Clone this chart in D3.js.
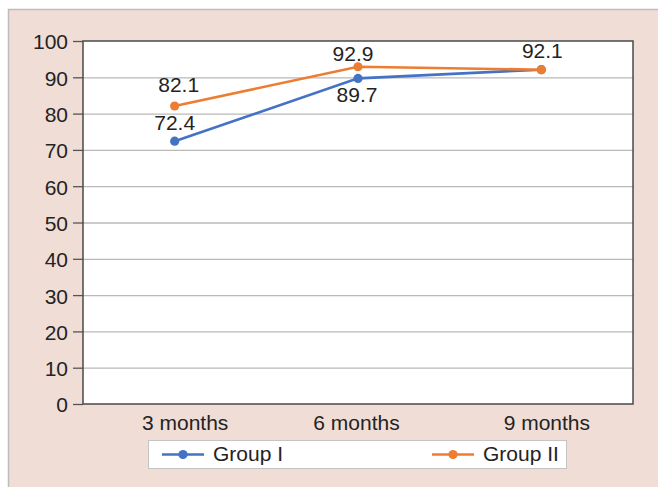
<!DOCTYPE html>
<html>
<head>
<meta charset="utf-8">
<script src="https://cdn.jsdelivr.net/npm/d3@7"></script>
<style>
  html, body { margin: 0; padding: 0; background: #ffffff; }
  svg { display: block; }
  text { font-family: "Liberation Sans", Arial, sans-serif; fill: #232323; }
</style>
</head>
<body>
<svg id="chart" width="658" height="487"></svg>
<script>
// Time points on the x axis
const timepoints = ["3 months", "6 months", "9 months"];
// Series values (%)
const groupI = [72.4, 89.7, 92.1];
const groupII = [82.1, 92.9, 92.1];
// Y axis ticks
const yTicks = [0, 10, 20, 30, 40, 50, 60, 70, 80, 90, 100];

const FONT = 21;

// Value labels: which points carry a label and where it sits relative to the marker
const series = [
  { name: "Group I", values: groupI, color: "#4472c4",
    labels: [{ i: 0, dx: 0, dy: -11.5 }, { i: 1, dx: -1, dy: 24 }] },
  { name: "Group II", values: groupII, color: "#ed7d31",
    labels: [{ i: 0, dx: 4, dy: -14 }, { i: 1, dx: -5, dy: -5.5 }, { i: 2, dx: 1, dy: -12 }] }
];

const W = 658, H = 487;
const plot = { left: 83, top: 41, right: 633, bottom: 404 };

const svg = d3.select("#chart");

// Outer chart panel
svg.append("rect")
  .attr("x", 8.5).attr("y", 9.5)
  .attr("width", W).attr("height", H)
  .attr("fill", "#f0ddd6")
  .attr("stroke", "#bdbdbd").attr("stroke-width", 1.5);

// Plot background
svg.append("rect")
  .attr("x", plot.left).attr("y", plot.top)
  .attr("width", plot.right - plot.left).attr("height", plot.bottom - plot.top)
  .attr("fill", "#ffffff");

const x = d3.scalePoint().domain(timepoints)
  .range([plot.left, plot.right]).padding(0.5);
const y = d3.scaleLinear().domain([0, 100])
  .range([plot.bottom, plot.top]);

// Horizontal gridlines
svg.append("g").selectAll("line")
  .data(yTicks.filter(t => t > 0 && t < 100))
  .join("line")
  .attr("x1", plot.left).attr("x2", plot.right)
  .attr("y1", d => y(d) + 0.5).attr("y2", d => y(d) + 0.5)
  .attr("stroke", "#b9b9b9").attr("stroke-width", 1.3);

// Y axis with outward ticks
const yAxis = svg.append("g")
  .attr("transform", `translate(${plot.left},0)`)
  .call(d3.axisLeft(y).tickValues(yTicks).tickSize(10).tickPadding(5).tickSizeOuter(0));
yAxis.select(".domain").remove();
yAxis.selectAll(".tick line").attr("stroke", "#555").attr("stroke-width", 1.3);
yAxis.selectAll(".tick text")
  .attr("font-size", FONT).attr("fill", "#232323")
  .attr("dy", "0.38em")
  .style("font-family", "'Liberation Sans', Arial, sans-serif");

// X axis labels
const xShift = [10, -2, 5];
const xAxis = svg.append("g")
  .attr("transform", `translate(0,${plot.bottom})`)
  .call(d3.axisBottom(x).tickSize(0).tickPadding(0));
xAxis.select(".domain").remove();
xAxis.selectAll(".tick text")
  .attr("font-size", FONT).attr("fill", "#232323")
  .attr("dy", null)
  .attr("y", 26)
  .attr("dx", (d, i) => xShift[i])
  .style("font-family", "'Liberation Sans', Arial, sans-serif");

// Plot border
svg.append("rect")
  .attr("x", plot.left).attr("y", plot.top)
  .attr("width", plot.right - plot.left).attr("height", plot.bottom - plot.top)
  .attr("fill", "none").attr("stroke", "#4a4a4a").attr("stroke-width", 1.5);

// Lines and markers
const line = d3.line()
  .x((d, i) => x(timepoints[i]))
  .y(d => y(d));

series.forEach(s => {
  const g = svg.append("g");
  g.append("path")
    .datum(s.values)
    .attr("d", line)
    .attr("fill", "none")
    .attr("stroke", s.color)
    .attr("stroke-width", 2.6);
  g.selectAll("circle")
    .data(s.values)
    .join("circle")
    .attr("cx", (d, i) => x(timepoints[i]))
    .attr("cy", d => y(d))
    .attr("r", 4.6)
    .attr("fill", s.color);
});

// Value labels
series.forEach(s => {
  svg.append("g").selectAll("text")
    .data(s.labels)
    .join("text")
    .attr("x", d => x(timepoints[d.i]) + d.dx)
    .attr("y", d => y(s.values[d.i]) + d.dy)
    .attr("text-anchor", "middle")
    .attr("font-size", FONT)
    .text(d => s.values[d.i].toFixed(1));
});

// Legend
const legend = svg.append("g");
legend.append("rect")
  .attr("x", 148.5).attr("y", 440.5)
  .attr("width", 418).attr("height", 28)
  .attr("fill", "#ffffff")
  .attr("stroke", "#c4c4c4").attr("stroke-width", 1);

const legendItems = [
  { s: series[0], x0: 162 },
  { s: series[1], x0: 432 }
];
legendItems.forEach(({ s, x0 }) => {
  const ly = 454.5;
  legend.append("line")
    .attr("x1", x0).attr("x2", x0 + 42)
    .attr("y1", ly).attr("y2", ly)
    .attr("stroke", s.color).attr("stroke-width", 2.6);
  legend.append("circle")
    .attr("cx", x0 + 21).attr("cy", ly).attr("r", 4.6)
    .attr("fill", s.color);
  legend.append("text")
    .attr("x", x0 + 51).attr("y", ly + 6.5)
    .attr("font-size", FONT)
    .text(s.name);
});
</script>
</body>
</html>
